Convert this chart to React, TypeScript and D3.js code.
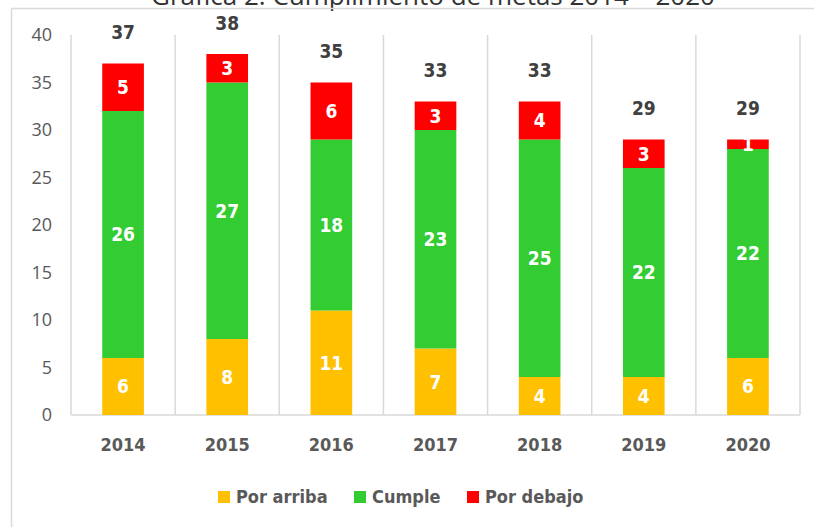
import React from "react";
import * as d3 from "d3";

const years = ["2014", "2015", "2016", "2017", "2018", "2019", "2020"];
const porArriba = [6, 8, 11, 7, 4, 4, 6];
const cumple = [26, 27, 18, 23, 25, 22, 22];
const porDebajo = [5, 3, 6, 3, 4, 3, 1];
const yTicks = [0, 5, 10, 15, 20, 25, 30, 35, 40];
const seriesNames = ["Por arriba", "Cumple", "Por debajo"];
const seriesColors = ["#FFC000", "#33CC33", "#FF0000"];
const title = "Gráfica 2. Cumplimiento de metas 2014 – 2020";

const W = 814;
const H = 527;
const left = 71;
const right = 800;
const top = 35;
const bottom = 415;

const rows = years.map((y, i) => ({
  year: y,
  "Por arriba": porArriba[i],
  Cumple: cumple[i],
  "Por debajo": porDebajo[i],
}));

const narrow = "'DejaVu Sans Condensed', 'DejaVu Sans', sans-serif";

export default function App() {
  const x = d3.scaleBand<string>().domain(years).range([left, right]);
  const y = d3.scaleLinear().domain([0, 40]).range([bottom, top]);
  const stack = d3.stack<any>().keys(seriesNames);
  const stacked = stack(rows);
  const bw = x.bandwidth();
  const barW = bw * 0.4;
  const gridXs = [...years.map((yr) => x(yr) as number), right];

  const legendItems = [
    { name: seriesNames[0], color: seriesColors[0], x: 218 },
    { name: seriesNames[1], color: seriesColors[1], x: 354 },
    { name: seriesNames[2], color: seriesColors[2], x: 467 },
  ];

  return (
    <svg
      width={W}
      height={H}
      style={{ position: "absolute", left: 0, top: 0, background: "#fff" }}
    >
      <rect x={0} y={0} width={W} height={H} fill="#fff" />
      <text
        x={433}
        y={5}
        textAnchor="middle"
        fontFamily="'Open Sans', sans-serif"
        fontSize={26}
        fill="#333"
      >
        {title}
      </text>
      {/* outer frame */}
      <line x1={11.5} y1={8.5} x2={W} y2={8.5} stroke="#d9d9d9" strokeWidth={1.5} />
      <line x1={11.5} y1={8.5} x2={11.5} y2={H} stroke="#d9d9d9" strokeWidth={1.5} />

      {/* vertical gridlines */}
      {gridXs.map((gx, i) => (
        <line
          key={i}
          x1={gx}
          x2={gx}
          y1={top}
          y2={bottom}
          stroke="#d9d9d9"
          strokeWidth={1.5}
        />
      ))}
      <line x1={left} x2={right} y1={bottom} y2={bottom} stroke="#d9d9d9" strokeWidth={1.5} />

      {/* y ticks */}
      {yTicks.map((t) => (
        <text
          key={t}
          x={52}
          y={y(t)}
          dy="0.36em"
          textAnchor="end"
          fontFamily="'Open Sans', sans-serif"
          fontSize={18}
          fill="#595959"
        >
          {t}
        </text>
      ))}

      {/* bars */}
      {stacked.map((s, si) => (
        <g key={s.key}>
          {s.map((d, i) => {
            const bx = (x(years[i]) as number) + (bw - barW) / 2;
            const y0 = y(d[0]);
            const y1 = y(d[1]);
            return (
              <g key={i}>
                <rect x={bx} y={y1} width={barW} height={y0 - y1} fill={seriesColors[si]} />
                <text
                  x={bx + barW / 2}
                  y={(y0 + y1) / 2}
                  dy="0.36em"
                  textAnchor="middle"
                  fontFamily={narrow}
                  fontWeight="bold"
                  fontSize={19}
                  fill="#fff"
                >
                  {d[1] - d[0]}
                </text>
              </g>
            );
          })}
        </g>
      ))}

      {/* totals */}
      {years.map((yr, i) => {
        const total = porArriba[i] + cumple[i] + porDebajo[i];
        return (
          <text
            key={yr}
            x={(x(yr) as number) + bw / 2}
            y={y(total) - 31}
            dy="0.36em"
            textAnchor="middle"
            fontFamily={narrow}
            fontWeight="bold"
            fontSize={19}
            fill="#404040"
          >
            {total}
          </text>
        );
      })}

      {/* x labels */}
      {years.map((yr) => (
        <text
          key={yr}
          x={(x(yr) as number) + bw / 2}
          y={445}
          dy="0.36em"
          textAnchor="middle"
          fontFamily={narrow}
          fontWeight="bold"
          fontSize={18}
          fill="#595959"
        >
          {yr}
        </text>
      ))}

      {/* legend */}
      {legendItems.map((it) => (
        <g key={it.name}>
          <rect x={it.x} y={491} width={12} height={12} fill={it.color} />
          <text
            x={it.x + 18}
            y={497}
            dy="0.36em"
            fontFamily={narrow}
            fontWeight="bold"
            fontSize={18}
            fill="#595959"
          >
            {it.name}
          </text>
        </g>
      ))}
    </svg>
  );
}
